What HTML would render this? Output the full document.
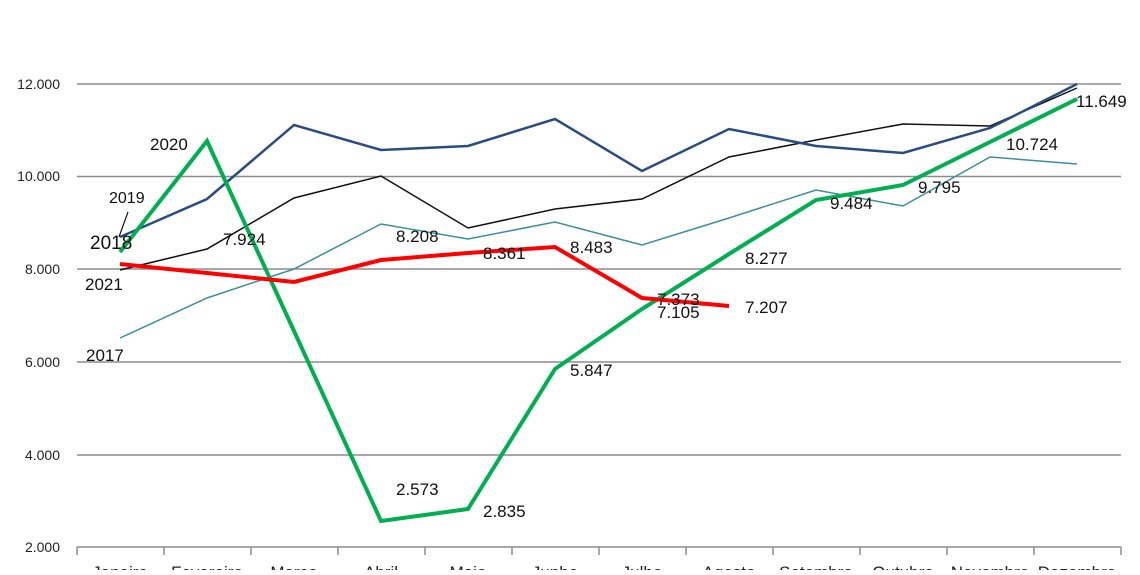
<!DOCTYPE html>
<html><head><meta charset="utf-8"><style>
html,body{margin:0;padding:0;background:#fff;overflow:hidden}
svg text{font-family:"Liberation Sans",sans-serif}
</style></head><body>
<svg width="1140" height="570" viewBox="0 0 1140 570">
<g stroke="#8c8c8c" stroke-width="1.5">
<line x1="77" y1="84" x2="1121" y2="84"/>
<line x1="77" y1="176.5" x2="1121" y2="176.5"/>
<line x1="77" y1="269" x2="1121" y2="269"/>
<line x1="77" y1="362" x2="1121" y2="362"/>
<line x1="77" y1="455" x2="1121" y2="455"/>
<line x1="77" y1="547" x2="1121" y2="547"/>
<g>
<line x1="77" y1="547" x2="77" y2="555"/><line x1="164" y1="547" x2="164" y2="555"/><line x1="251" y1="547" x2="251" y2="555"/><line x1="338" y1="547" x2="338" y2="555"/><line x1="425" y1="547" x2="425" y2="555"/><line x1="512" y1="547" x2="512" y2="555"/><line x1="599" y1="547" x2="599" y2="555"/><line x1="686" y1="547" x2="686" y2="555"/><line x1="773" y1="547" x2="773" y2="555"/><line x1="860" y1="547" x2="860" y2="555"/><line x1="947" y1="547" x2="947" y2="555"/><line x1="1034" y1="547" x2="1034" y2="555"/><line x1="1121" y1="547" x2="1121" y2="555"/>
</g></g>
<g font-size="14" fill="#222" text-anchor="end">
<text x="60" y="89">12.000</text><text x="60" y="181">10.000</text><text x="60" y="274">8.000</text><text x="60" y="367">6.000</text><text x="60" y="460">4.000</text><text x="60" y="552">2.000</text>
</g>
<g font-size="17" fill="#222" text-anchor="middle">
<text x="120" y="578">Janeiro</text><text x="207" y="578">Fevereiro</text><text x="294" y="578">Março</text><text x="381" y="578">Abril</text><text x="468" y="578">Maio</text><text x="555" y="578">Junho</text><text x="642" y="578">Julho</text><text x="729" y="578">Agosto</text><text x="816" y="578">Setembro</text><text x="903" y="578">Outubro</text><text x="990" y="578">Novembro</text><text x="1077" y="578">Dezembro</text>
</g>
<polyline fill="none" stroke="#3a8fa0" stroke-width="1.5" points="120,338 207,298 294,269 381,224 468,239 555,222 642,245 729,218 816,190 903,206 990,157 1077,164"/>
<polyline fill="none" stroke="#111" stroke-width="1.5" points="120,270 207,249 294,198 381,176 468,228 555,209 642,199 729,157 816,140 903,124 990,126 1077,88"/>
<polyline fill="none" stroke="#2a4d80" stroke-width="2.5" points="120,237 207,199 294,125 381,150 468,146 555,119 642,171 729,129 816,146 903,153 990,128 1077,84"/>
<polyline fill="none" stroke="#00b050" stroke-width="4" points="120,252 207,141 294,331 381,521 468,509 555,369 642,309 729,254 816,200 903,185 990,142 1077,99"/>
<polyline fill="none" stroke="#ff0000" stroke-width="4" points="120,264 207,273 294,282 381,260 468,253 555,247 642,298 729,306"/>
<line x1="119" y1="237" x2="128" y2="212" stroke="#111" stroke-width="1.2"/>
<g font-size="17" fill="#111">
<text x="150" y="150">2020</text>
<text x="109" y="203" font-size="16">2019</text>
<text x="90" y="249" font-size="19">2018</text>
<text x="85" y="290">2021</text>
<text x="86" y="361">2017</text>
<text x="223" y="245">7.924</text>
<text x="396" y="242">8.208</text>
<text x="483" y="259">8.361</text>
<text x="570" y="253">8.483</text>
<text x="657" y="305">7.373</text>
<text x="657" y="318">7.105</text>
<text x="745" y="313">7.207</text>
<text x="745" y="264">8.277</text>
<text x="570" y="376">5.847</text>
<text x="396" y="495">2.573</text>
<text x="483" y="517">2.835</text>
<text x="830" y="209">9.484</text>
<text x="918" y="193">9.795</text>
<text x="1006" y="150">10.724</text>
<text x="1076" y="107">11.649</text>
</g>
</svg>
</body></html>
